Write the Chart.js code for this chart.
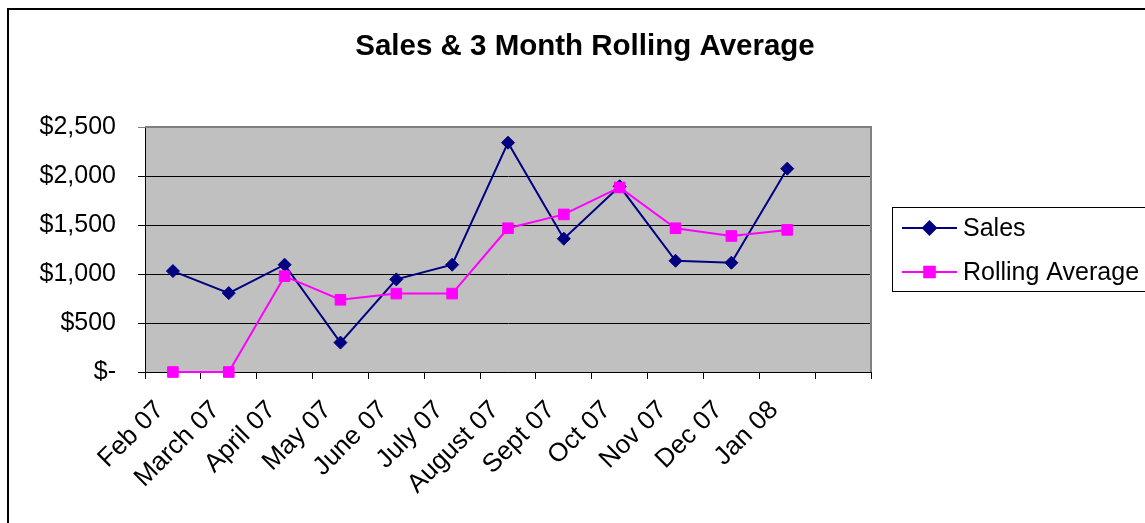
<!DOCTYPE html>
<html>
<head>
<meta charset="utf-8">
<script src="https://cdn.jsdelivr.net/npm/chart.js@4/dist/chart.umd.min.js"></script>
<style>
html,body{margin:0;padding:0;background:#fff;}
#wrap{width:1145px;height:523px;position:relative;overflow:hidden;}
</style>
</head>
<body>
<div id="wrap"><canvas id="c" width="1145" height="523"></canvas></div>
<script>
const categories = ['Feb 07','March 07','April 07','May 07','June 07','July 07','August 07','Sept 07','Oct 07','Nov 07','Dec 07','Jan 08',''];
const salesValues = [1030, 805, 1095, 300, 945, 1095, 2340, 1360, 1895, 1135, 1115, 2075];
const rollingValues = [0, 0, 978, 737, 800, 800, 1467, 1608, 1883, 1467, 1388, 1450];
const seriesNames = ['Sales', 'Rolling Average'];
const chartTitle = 'Sales & 3 Month Rolling Average';
const yMin = 0, yMax = 2500, yStep = 500;

const FONT = "'Liberation Sans', Arial, sans-serif";

function moneyLabel(v){
  if (v === 0) return '$-';
  return '$' + v.toLocaleString('en-US');
}

const framePlugin = {
  id: 'frame',
  beforeDraw(chart){
    const {ctx, chartArea:a} = chart;
    ctx.save();
    ctx.fillStyle = '#fff';
    ctx.fillRect(0,0,chart.width,chart.height);
    ctx.strokeStyle = '#000';
    ctx.lineWidth = 2;
    ctx.strokeRect(8, 9, chart.width + 20, chart.height + 20);
    ctx.fillStyle = '#C0C0C0';
    ctx.fillRect(a.left, a.top, a.right - a.left, a.bottom - a.top);
    ctx.restore();
  },
  beforeDatasetsDraw(chart){
    const {ctx, chartArea:a} = chart;
    ctx.save();
    ctx.strokeStyle = '#808080';
    ctx.lineWidth = 2;
    ctx.beginPath();
    ctx.moveTo(a.left, a.top);
    ctx.lineTo(a.right, a.top);
    ctx.lineTo(a.right, a.bottom);
    ctx.stroke();
    ctx.restore();
  }
};

const legendPlugin = {
  id: 'boxLegend',
  afterDraw(chart){
    const {ctx, chartArea:a} = chart;
    const x0 = a.right + 21;
    const cyMid = (a.top + a.bottom) / 2;
    const h = 84, w = 400;
    const y0 = Math.round(cyMid - h/2) - 1;
    ctx.save();
    ctx.strokeStyle = '#000';
    ctx.lineWidth = 1;
    ctx.strokeRect(x0 + 0.5, y0 + 0.5, w, h);
    chart.data.datasets.forEach((ds, i) => {
      const cy = y0 + 21 + i * 44;
      const lx1 = x0 + 10, lx2 = x0 + 65;
      ctx.strokeStyle = ds.borderColor;
      ctx.lineWidth = 2;
      ctx.beginPath();
      ctx.moveTo(lx1, cy);
      ctx.lineTo(lx2, cy);
      ctx.stroke();
      ctx.fillStyle = ds.pointBackgroundColor;
      ctx.strokeStyle = ds.pointBorderColor;
      Chart.helpers.drawPoint(ctx, {pointStyle: ds.pointStyle, radius: ds.pointRadius, borderWidth: 1, rotation: 0}, (lx1 + lx2)/2, cy);
      ctx.fillStyle = '#000';
      ctx.font = '25px ' + FONT;
      ctx.textAlign = 'left';
      ctx.textBaseline = 'middle';
      ctx.fillText(ds.label, x0 + 71, cy + 1);
    });
    ctx.restore();
  }
};

new Chart(document.getElementById('c'), {
  type: 'line',
  data: {
    labels: categories,
    datasets: [
      {
        label: seriesNames[0],
        data: salesValues,
        borderColor: '#000080',
        backgroundColor: '#000080',
        pointBackgroundColor: '#000080',
        pointBorderColor: '#000080',
        borderWidth: 2,
        pointStyle: 'rectRot',
        pointRadius: 6.5,
        pointBorderWidth: 1,
        tension: 0,
        fill: false,
        clip: false,
        order: 1
      },
      {
        label: seriesNames[1],
        data: rollingValues,
        borderColor: '#FF00FF',
        backgroundColor: '#FF00FF',
        pointBackgroundColor: '#FF00FF',
        pointBorderColor: '#FF00FF',
        borderWidth: 2,
        pointStyle: 'rect',
        pointRadius: 7.5,
        pointBorderWidth: 1,
        tension: 0,
        fill: false,
        clip: false,
        order: 0
      }
    ]
  },
  options: {
    responsive: false,
    animation: false,
    devicePixelRatio: 1,
    layout: { padding: { left: 25, right: 0, top: 0, bottom: 0 } },
    plugins: {
      legend: { display: false },
      tooltip: { enabled: false },
      title: {
        display: true,
        text: chartTitle,
        color: '#000',
        font: { family: FONT, size: 29.5, weight: 'bold' },
        padding: { top: 29, bottom: 62.6 },
        fullSize: true
      }
    },
    scales: {
      x: {
        type: 'category',
        offset: true,
        grid: {
          offset: true,
          drawOnChartArea: false,
          drawTicks: true,
          tickLength: 7,
          color: '#000',
          lineWidth: 1
        },
        border: { display: true, color: '#000', width: 1 },
        ticks: {
          autoSkip: false,
          maxRotation: 45,
          minRotation: 45,
          color: '#000',
          font: { family: FONT, size: 26 },
          padding: 16,
          labelOffset: -13
        },
        afterFit(s){ s.height = 151; }
      },
      y: {
        type: 'linear',
        position: 'left',
        min: yMin,
        max: yMax,
        ticks: {
          stepSize: yStep,
          color: '#000',
          font: { family: FONT, size: 25 },
          padding: 22,
          callback: (v) => moneyLabel(v)
        },
        grid: {
          color: (c) => (c.tick && c.tick.value === yMax) ? '#808080' : '#000',
          lineWidth: 1,
          tickLength: 7,
          drawTicks: true
        },
        border: { display: true, color: '#000', width: 1 },
        afterFit(s){ s.width = 120; }
      },
      legendSpace: {
        type: 'linear',
        position: 'right',
        display: true,
        grid: { display: false, drawTicks: false },
        border: { display: false },
        ticks: { display: false },
        afterFit(s){ s.width = 274; }
      }
    }
  },
  plugins: [framePlugin, legendPlugin]
});
</script>
</body>
</html>
